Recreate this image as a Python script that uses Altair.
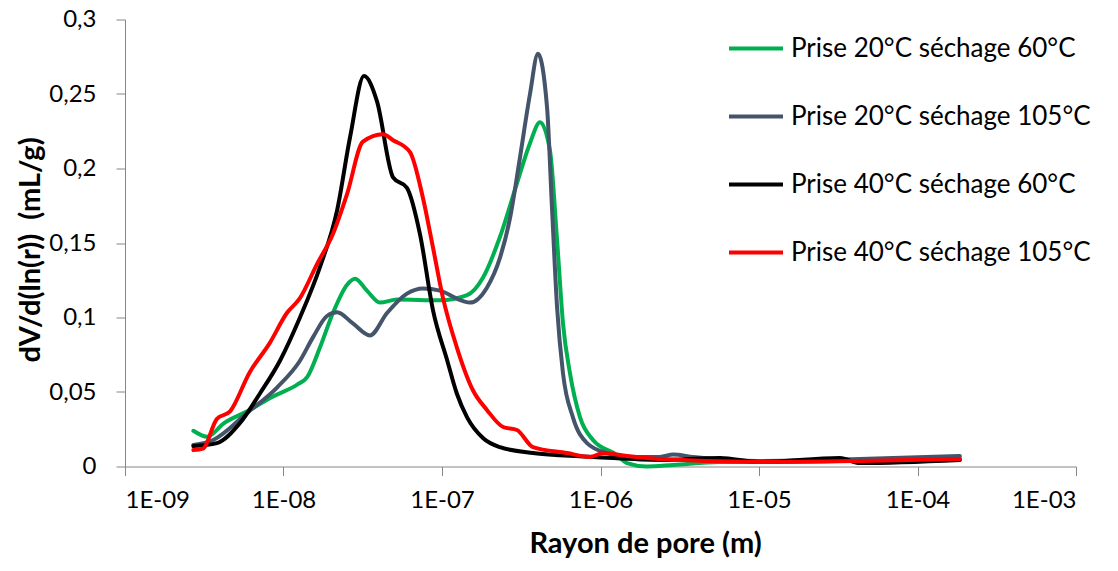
import altair as alt
import pandas as pd

names = ["Prise 20°C séchage 60°C", "Prise 20°C séchage 105°C",
         "Prise 40°C séchage 60°C", "Prise 40°C séchage 105°C"]
colors = ["#00B050", "#44546A", "#000000", "#FF0000"]

# Prise 20°C séchage 60°C
g_r = [2.7e-9, 3.3e-9, 4.2e-9, 5.9e-9, 8.6e-9, 1.22e-8, 1.41e-8, 1.70e-8, 2.05e-8, 2.52e-8,
       2.83e-8, 3.36e-8, 4.06e-8, 5.20e-8, 9.71e-8, 1.44e-7, 1.82e-7, 2.32e-7, 2.97e-7, 3.59e-7,
       4.15e-7, 4.80e-7, 5.32e-7, 5.80e-7, 6.42e-7, 7.43e-7, 8.97e-7, 1.27e-6, 1.47e-6, 1.96e-6,
       2.87e-6, 5.7e-6, 1.0e-5, 4.3e-5, 1.85e-4]
g_v = [0.024, 0.020, 0.029, 0.037, 0.047, 0.055, 0.060, 0.080, 0.103, 0.122,
       0.126, 0.118, 0.110, 0.112, 0.1115, 0.115, 0.127, 0.154, 0.190, 0.217,
       0.231, 0.212, 0.152, 0.096, 0.0625, 0.033, 0.0178, 0.0077, 0.0023, 0.0,
       0.001, 0.003, 0.003, 0.004, 0.005]

# Prise 20°C séchage 105°C
b_r = [2.7e-9, 3.6e-9, 5.9e-9, 9.1e-9, 1.27e-8, 1.54e-8, 1.88e-8, 2.18e-8, 2.74e-8, 3.51e-8,
       4.50e-8, 6.01e-8, 7.59e-8, 9.71e-8, 1.36e-7, 1.50e-7, 1.92e-7, 2.32e-7, 2.69e-7, 3.10e-7,
       3.59e-7, 4.03e-7, 4.60e-7, 4.94e-7, 5.32e-7, 5.80e-7, 6.70e-7, 8.22e-7, 1.10e-6, 1.60e-6,
       2.37e-6, 2.87e-6, 3.84e-6, 1.0e-5, 4.34e-5, 1.85e-4]
b_v = [0.0144, 0.0178, 0.036, 0.053, 0.071, 0.087, 0.101, 0.1035, 0.096, 0.088,
       0.103, 0.116, 0.1195, 0.118, 0.111, 0.110, 0.120, 0.140, 0.167, 0.207,
       0.250, 0.277, 0.241, 0.174, 0.107, 0.0625, 0.033, 0.0157, 0.009, 0.0064,
       0.0064, 0.008, 0.0064, 0.0037, 0.005, 0.007]

# Prise 40°C séchage 60°C
k_r = [2.7e-9, 3.8e-9, 5.3e-9, 7.1e-9, 9.5e-9, 1.27e-8, 1.70e-8, 2.18e-8, 2.63e-8, 3.22e-8,
       3.89e-8, 4.91e-8, 6.01e-8, 7.26e-8, 8.77e-8, 1.08e-7, 1.24e-7, 1.44e-7, 1.82e-7, 2.32e-7,
       3.75e-7, 5.55e-7, 8.97e-7, 2.37e-6, 5.68e-6, 1.0e-5, 3.24e-5, 4.34e-5, 1.85e-4]
k_v = [0.0137, 0.0157, 0.029, 0.049, 0.071, 0.100, 0.134, 0.172, 0.221, 0.262,
       0.245, 0.194, 0.187, 0.156, 0.105, 0.071, 0.049, 0.033, 0.019, 0.013,
       0.009, 0.0075, 0.0064, 0.0044, 0.0057, 0.003, 0.0057, 0.0023, 0.0044]

# Prise 40°C séchage 105°C
r_r = [2.7e-9, 3.1e-9, 3.8e-9, 4.6e-9, 6.1e-9, 8.2e-9, 1.05e-8, 1.27e-8, 1.63e-8, 2.05e-8,
       2.52e-8, 3.17e-8, 4.24e-8, 4.91e-8, 6.28e-8, 7.59e-8, 8.77e-8, 1.01e-7, 1.24e-7, 1.57e-7,
       1.92e-7, 2.43e-7, 2.97e-7, 3.75e-7, 6.15e-7, 8.59e-7, 1.04e-6, 1.47e-6, 2.37e-6, 1.0e-5,
       4.34e-5, 1.85e-4]
r_v = [0.011, 0.012, 0.032, 0.037, 0.063, 0.083, 0.103, 0.113, 0.136, 0.156,
       0.183, 0.218, 0.223, 0.219, 0.211, 0.180, 0.147, 0.114, 0.080, 0.051,
       0.038, 0.0265, 0.0245, 0.013, 0.009, 0.0064, 0.009, 0.007, 0.005, 0.003,
       0.0037, 0.005]

x_ticks = [1e-9, 1e-8, 1e-7, 1e-6, 1e-5, 1e-4, 1e-3]
y_ticks = [0, 0.05, 0.1, 0.15, 0.2, 0.25, 0.3]

rows = []
for name, rs, vs in zip(names, [g_r, b_r, k_r, r_r], [g_v, b_v, k_v, r_v]):
    for i, (r, v) in enumerate(zip(rs, vs)):
        rows.append({"series": name, "r": r, "v": v, "i": i})
df = pd.DataFrame(rows)

FONT = "Lato"

chart = alt.Chart(df).mark_line(strokeWidth=4, interpolate="monotone", strokeCap="round",
                                strokeJoin="round").encode(
    x=alt.X("r:Q",
            scale=alt.Scale(type="log", domain=[1e-9, 1e-3], nice=False),
            axis=alt.Axis(values=x_ticks, title="Rayon de pore (m)",
                          labelExpr="'1E-0' + toString(round(-log(datum.value) / LN10))",
                          labelFont=FONT, labelFontSize=24, labelColor="#000000",
                          labelPadding=13, tickSize=9, grid=False,
                          titleFont=FONT, titleFontSize=29, titleFontWeight="bold",
                          titleColor="#000000", titleX=520, titleY=86,
                          titleBaseline="alphabetic", titleAlign="center")),
    y=alt.Y("v:Q",
            scale=alt.Scale(domain=[0, 0.3], nice=False),
            axis=alt.Axis(values=y_ticks, title="dV/d(ln(r))\u00a0 (mL/g)",
                          format=".2~f",
                          labelExpr="replace(datum.label, '.', ',')",
                          labelFont=FONT, labelFontSize=24, labelColor="#000000",
                          labelPadding=20, tickSize=9, grid=False,
                          titleFont=FONT, titleFontSize=29, titleFontWeight="bold",
                          titleColor="#000000", titleX=-95, titleY=230,
                          titleBaseline="middle", titleAlign="center", titleAngle=270)),
    color=alt.Color("series:N",
                    scale=alt.Scale(domain=names, range=colors),
                    sort=names,
                    legend=alt.Legend(title=None, orient="none", legendX=602, legendY=0,
                                      symbolType="stroke", symbolSize=2916,
                                      symbolStrokeWidth=4, labelFont=FONT,
                                      labelFontSize=26, labelColor="#000000",
                                      labelOffset=6, rowPadding=26, padding=0,
                                      labelLimit=600)),
    order="i:Q",
).properties(
    width=951, height=447,
    autosize=alt.AutoSizeParams(type="none"),
    padding={"left": 117, "top": 11.5, "right": 34, "bottom": 96.5},
).configure_view(stroke=None).configure_axis(
    domainColor="#868686", tickColor="#868686", domainWidth=1, tickWidth=1
)

chart.save("out.html", embed_options={"renderer": "svg", "actions": False})
